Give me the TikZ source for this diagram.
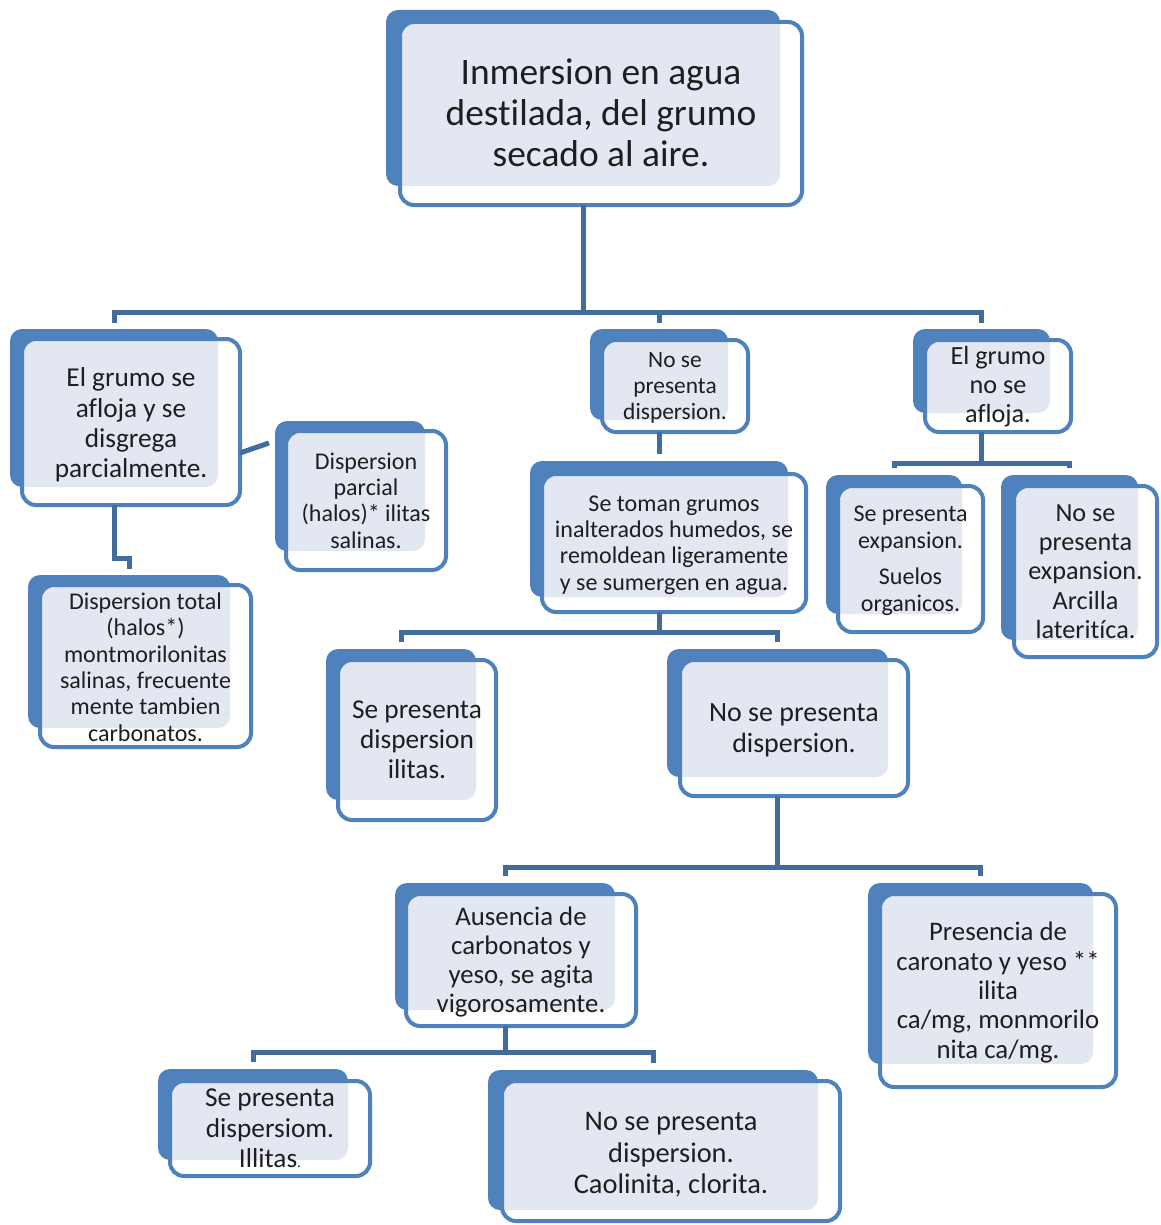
\documentclass[tikz,border=0pt]{standalone}
\usepackage{fontspec}
\setmainfont[Ligatures=NoCommon]{Carlito}
\usetikzlibrary{fit}
\definecolor{boxblue}{RGB}{79,129,189}
\definecolor{connblue}{RGB}{66,108,156}
\definecolor{texfill}{RGB}{226,231,241}
\definecolor{txt}{RGB}{30,30,30}
\begin{document}
\begin{tikzpicture}[x=1pt,y=-1pt,
 shad/.style={fill=boxblue, rounded corners=12pt, inner sep=0pt, outer sep=0pt},
 front/.style={draw=boxblue, line width=4pt, fill=white, rounded corners=14pt, inner sep=0pt, outer sep=0pt,
   path picture={\fill[texfill, rounded corners=12pt] (#1.north west) rectangle (#1.south east);}},
 tx/.style={align=center, text=txt, inner sep=0pt},
 conn/.style={draw=connblue, line width=5pt},
 fs/.style 2 args={font=\fontsize{#1}{#2}\selectfont}]
\useasboundingbox (0,0) rectangle (1160,1225);

% A
\node[shad, fit={(386,10) (780,186)}] (sA) {};
\node[front=sA, fit={(400,22) (802,205)}] (nA) {};
\node[tx, fs={37.4}{41}] (tA) at ([yshift=1pt]nA.center) {Inmersion en agua\\destilada, del grumo\\secado al aire.};
% B
\node[shad, fit={(10,329) (218,487)}] (sB) {};
\node[front=sB, fit={(22,339) (240,505)}] (nB) {};
\node[tx, fs={27.3}{30.3}] (tB) at ([yshift=-3pt]nB.center) {El grumo se\\afloja y se\\disgrega\\parcialmente.};
% C
\node[shad, fit={(275,421) (425,551)}] (sC) {};
\node[front=sC, fit={(286,431) (446,570)}] (nC) {};
\node[tx, fs={24}{26.3}] (tC) at (nC.center) {Dispersion\\parcial\\(halos)* ilitas\\salinas.};
% D
\node[shad, fit={(28,575) (230,728)}] (sD) {};
\node[front=sD, fit={(40,585) (251,747)}] (nD) {};
\node[tx, fs={24}{26.4}] (tD) at ([yshift=-1pt]nD.center) {Dispersion total\\(halos*)\\montmorilonitas\\salinas, frecuente\\mente tambien\\carbonatos.};
% E
\node[shad, fit={(590,329) (728,420)}] (sE) {};
\node[front=sE, fit={(602,340) (748,432)}] (nE) {};
\node[tx, fs={23.4}{26}] (tE) at ([yshift=-2pt]nE.center) {No se\\presenta\\dispersion.};
% Fg
\node[shad, fit={(913,329) (1050,413)}] (sF) {};
\node[front=sF, fit={(925,340) (1071,432)}] (nF) {};
\node[tx, fs={26.2}{29}] (tF) at ([yshift=-1pt]nF.center) {El grumo\\no se\\afloja.};
% G
\node[shad, fit={(530,461) (788,597)}] (sG) {};
\node[front=sG, fit={(542,474) (806,612)}] (nG) {};
\node[tx, fs={24}{26.3}] (tG) at ([yshift=-2pt]nG.center) {Se toman grumos\\inalterados humedos, se\\remoldean ligeramente\\y se sumergen en agua.};
% H
\node[shad, fit={(826,475) (962,614)}] (sH) {};
\node[front=sH, fit={(838,486) (983,632)}] (nH) {};
\node[tx, fs={24}{26.5}] (tH) at ([yshift=-2pt]nH.center) {Se presenta\\expansion.\\[10pt]Suelos\\organicos.};
% I
\node[shad, fit={(1001,475) (1138,640)}] (sI) {};
\node[front=sI, fit={(1014,486) (1157,657)}] (nI) {};
\node[tx, fs={26.2}{29.3}] (tI) at (nI.center) {No se\\presenta\\expansion.\\Arcilla\\lateritíca.};
% J
\node[shad, fit={(326,649) (476,800)}] (sJ) {};
\node[front=sJ, fit={(338,660) (496,820)}] (nJ) {};
\node[tx, fs={27.3}{30}] (tJ) at (nJ.center) {Se presenta\\dispersion\\ilitas.};
% K
\node[shad, fit={(667,649) (888,777)}] (sK) {};
\node[front=sK, fit={(680,660) (908,796)}] (nK) {};
\node[tx, fs={27.9}{31}] (tK) at ([yshift=-2pt]nK.center) {No se presenta\\dispersion.};
% L
\node[shad, fit={(395,883) (615,1010)}] (sL) {};
\node[front=sL, fit={(406,894) (636,1026)}] (nL) {};
\node[tx, fs={26.8}{29.3}] (tL) at ([yshift=-2pt]nL.center) {Ausencia de\\carbonatos y\\yeso, se agita\\vigorosamente.};
% M
\node[shad, fit={(868,883) (1093,1064)}] (sM) {};
\node[front=sM, fit={(880,894) (1116,1087)}] (nM) {};
\node[tx, fs={26.8}{29.3}] (tM) at ([yshift=-2pt]nM.center) {Presencia de\\caronato y yeso **\\ilita\\ca/mg, monmorilo\\nita ca/mg.};
% N
\node[shad, fit={(158,1069) (348,1160)}] (sN) {};
\node[front=sN, fit={(170,1081) (370,1176)}] (nN) {};
\node[tx, fs={27.3}{30.5}] (tN) at (nN.center) {Se presenta\\dispersiom.\\Illitas{\fontsize{15}{15}\selectfont.}};
% O
\node[shad, fit={(488,1070) (818,1210)}] (sO) {};
\node[front=sO, fit={(502,1081) (840,1221)}] (nO) {};
\node[tx, fs={28.4}{31.5}] (tO) at ([yshift=-4pt]nO.center) {No se presenta\\dispersion.\\Caolinita, clorita.};

% connectors
\draw[conn] (sA.south |- nA.south) -- (sA.south |- 0,312);
\draw[conn] ([yshift=6pt]sB.north) -- (sB.north |- 0,312) -- (sF.north |- 0,312) -- ([yshift=6pt]sF.north);
\draw[conn] ([yshift=6pt]sE.north) -- (sE.north |- 0,312);

\coordinate (cC) at (269,443);
\draw[conn] (nB.east |- 0,453) -- (cC);
\draw[conn] (sB.south |- nB.south) -- (sB.south |- 0,558) -| ([yshift=6pt]sD.north);

\draw[conn] (sE.south |- nE.south) -- ([yshift=7pt]sG.north);

\draw[conn] (sF.south |- nF.south) -- (sF.south |- 0,463);
\draw[conn] ([yshift=7pt]sH.north) -- (sH.north |- 0,463) -- (sI.north |- 0,463) -- ([yshift=7pt]sI.north);

\draw[conn] (sG.south |- nG.south) -- (sG.south |- 0,632);
\draw[conn] ([yshift=7pt]sJ.north) -- (sJ.north |- 0,632) -- (sK.north |- 0,632) -- ([yshift=7pt]sK.north);

\draw[conn] (sK.south |- nK.south) -- (sK.south |- 0,867);
\draw[conn] ([yshift=7pt]sL.north) -- (sL.north |- 0,867) -- (sM.north |- 0,867) -- ([yshift=7pt]sM.north);

\draw[conn] (sL.south |- nL.south) -- (sL.south |- 0,1052);
\draw[conn] ([yshift=7pt]sN.north) -- (sN.north |- 0,1052) -- (sO.north |- 0,1052) -- ([yshift=7pt]sO.north);
\end{tikzpicture}
\end{document}
